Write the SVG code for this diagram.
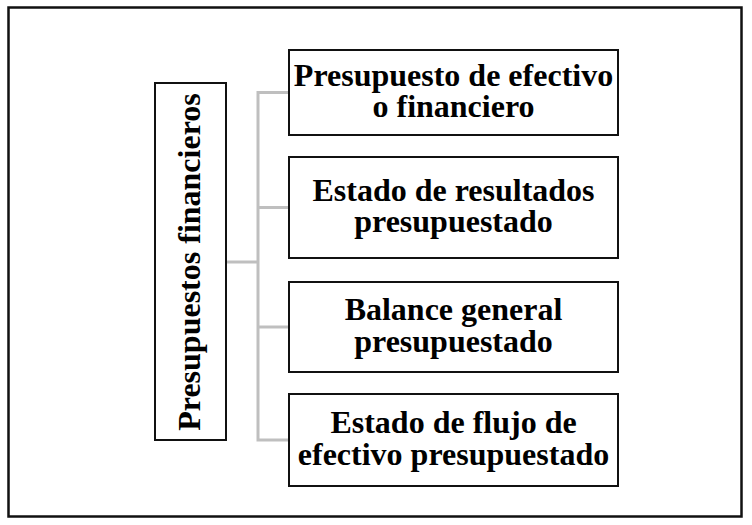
<svg xmlns="http://www.w3.org/2000/svg" width="752" height="525" viewBox="0 0 752 525">
<style>
.box{fill:#fff;stroke:#111;stroke-width:2}
.lbl{font-family:"Liberation Serif","Times New Roman",serif;font-weight:bold;font-size:32px;fill:#000;text-anchor:middle}
.con{fill:none;stroke:#BFBFBF;stroke-width:3}
</style>
<rect x="0" y="0" width="752" height="525" fill="#fff"/>
<rect id="frame" x="8.5" y="7.5" width="733" height="509" fill="none" stroke="#111" stroke-width="2.5"/>
<g id="connectors">
<path class="con" d="M226 262 H258"/>
<path class="con" d="M289 92.5 H258 V440 H289"/>
<path class="con" d="M258 207.5 H289"/>
<path class="con" d="M258 327 H289"/>
</g>
<g id="root">
<rect class="box" x="155" y="83" width="71" height="357"/>
<text class="lbl" transform="translate(200,262) rotate(-90)">Presupuestos financieros</text>
</g>
<g id="n1">
<rect class="box" x="289" y="50" width="329" height="85"/>
<text class="lbl" x="453.5" y="85.5">Presupuesto de efectivo</text>
<text class="lbl" x="453.5" y="117">o financiero</text>
</g>
<g id="n2">
<rect class="box" x="289" y="157" width="329" height="101"/>
<text class="lbl" x="453.5" y="200.5">Estado de resultados</text>
<text class="lbl" x="453.5" y="232">presupuestado</text>
</g>
<g id="n3">
<rect class="box" x="289" y="282" width="329" height="90"/>
<text class="lbl" x="453.5" y="320">Balance general</text>
<text class="lbl" x="453.5" y="351.5">presupuestado</text>
</g>
<g id="n4">
<rect class="box" x="289" y="394" width="329" height="92"/>
<text class="lbl" x="453.5" y="433">Estado de flujo de</text>
<text class="lbl" x="453.5" y="465">efectivo presupuestado</text>
</g>
</svg>
